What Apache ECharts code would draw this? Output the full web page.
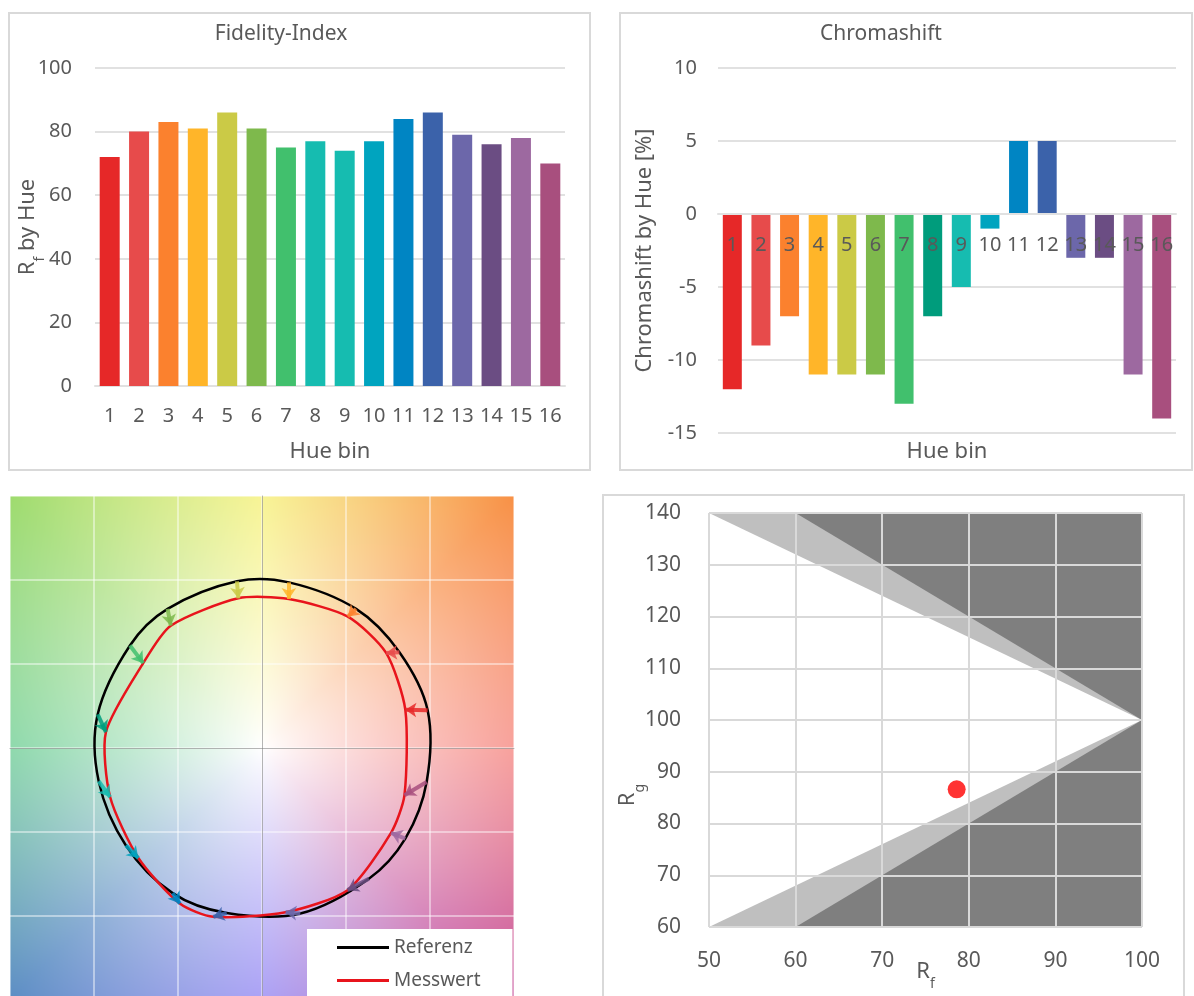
<!DOCTYPE html>
<html>
<head>
<meta charset="utf-8">
<title>TM-30 Auswertung</title>
<script src="https://cdn.jsdelivr.net/npm/echarts@6/dist/echarts.min.js"></script>
<style>
  html, body { margin: 0; padding: 0; background: #fff; }
  #chart { width: 1194px; height: 996px; }
</style>
</head>
<body>
<div id="chart"></div>
<script>
// ---- data ----
const hueBins = ['1', '2', '3', '4', '5', '6', '7', '8', '9', '10', '11', '12', '13', '14', '15', '16'];
const fidelityByHue = [72, 80, 83, 81, 86, 81, 75, 77, 74, 77, 84, 86, 79, 76, 78, 70];
const chromaShiftByHue = [-12, -9, -7, -11, -11, -11, -13, -7, -5, -1, 5, 5, -3, -3, -11, -14];

// colour vector graphic, normalised a'/b' coordinates per hue bin
const referenzPoints = [
  [0.986, 0.224], [0.818, 0.570], [0.560, 0.828], [0.160, 0.986],
  [-0.149, 0.992], [-0.562, 0.828], [-0.786, 0.610], [-0.978, 0.200],
  [-0.972, -0.198], [-0.810, -0.580], [-0.532, -0.864], [-0.210, -0.982],
  [0.228, -0.985], [0.636, -0.778], [0.853, -0.539], [0.980, -0.202]
];
const messwertPoints = [
  [0.853, 0.228], [0.739, 0.566], [0.511, 0.782], [0.160, 0.887],
  [-0.141, 0.891], [-0.543, 0.728], [-0.707, 0.505], [-0.929, 0.095],
  [-0.904, -0.292], [-0.736, -0.655], [-0.489, -0.926], [-0.290, -1.005],
  [0.140, -0.978], [0.509, -0.846], [0.768, -0.505], [0.848, -0.281]
];

// Rf / Rg chart
const rfRgPoint = [[78.6, 86.6]];
const rgUpperOuter = [[50, 140], [100, 100]];
const rgUpperInner = [[60, 140], [100, 100]];
const rgLowerOuter = [[50, 60], [100, 100]];
const rgLowerInner = [[60, 60], [100, 100]];

// ---- styles ----
const FONT = '"Noto Sans", "Open Sans", sans-serif';
const TXT = '#595959';
const GRIDC = '#e1e1e1';
const fidelityColors = ['#e62828', '#e74b4b', '#fb812e', '#ffb529', '#cbca46', '#7eb94c', '#41c06d', '#16bcb0',
  '#16bcb0', '#00a4bf', '#0085c3', '#3b62aa', '#6c67aa', '#6b4d83', '#9d69a0', '#a84f7e'];
const chromaColors = fidelityColors.slice();
chromaColors[7] = '#009c7c';

// background hue field for the colour vector graphic (base colours every 45 deg)
const fieldColors = [
  [245, 127, 120], [248, 145, 70], [245, 240, 110], [158, 219, 110],
  [102, 203, 142], [92, 141, 196], [140, 127, 242], [197, 80, 155]
];
function hueField(size) {
  const cvs = document.createElement('canvas');
  cvs.width = size; cvs.height = size;
  const ctx = cvs.getContext('2d');
  const img = ctx.createImageData(size, size);
  const half = size / 2, sc = 1.5 / half;
  for (let py = 0; py < size; py++) {
    for (let px = 0; px < size; px++) {
      const x = (px + 0.5 - half) * sc, y = (half - py - 0.5) * sc;
      let a = Math.atan2(y, x) * 180 / Math.PI;
      if (a < 0) a += 360;
      const s = Math.floor(a / 45) % 8, f = a / 45 - Math.floor(a / 45);
      const c0 = fieldColors[s], c1 = fieldColors[(s + 1) % 8];
      const t = Math.pow(Math.min(1, Math.hypot(x, y) / 2.12), 0.9);
      const i = (py * size + px) * 4;
      for (let k = 0; k < 3; k++) {
        const c = c0[k] + (c1[k] - c0[k]) * f;
        img.data[i + k] = Math.round(255 + (c - 255) * t);
      }
      img.data[i + 3] = 255;
    }
  }
  ctx.putImageData(img, 0, 0);
  return cvs;
}

// closed smooth outline through the points of one series
function closedCurve(points, color, smooth) {
  return function (params, api) {
    if (params.dataIndex !== 0) return null;
    return {
      type: 'polygon',
      shape: { points: points.map(p => api.coord(p)), smooth: smooth },
      style: { fill: 'none', stroke: color, lineWidth: 2.5 }
    };
  };
}

const subRich = {
  r: { fontSize: 22, color: TXT, fontFamily: FONT, verticalAlign: 'top', lineHeight: 30 },
  s: { fontSize: 14, color: TXT, fontFamily: FONT, verticalAlign: 'bottom', lineHeight: 14 }
};

const chart = echarts.init(document.getElementById('chart'));

const arrowData = referenzPoints.map((p, i) => ({
  coords: [p, messwertPoints[i]],
  lineStyle: { color: chromaColors[i] }
}));

const option = {
  animation: false,
  backgroundColor: '#fff',
  textStyle: { fontFamily: FONT },
  title: [
    { text: 'Fidelity-Index', left: 276, top: 19, textAlign: 'center',
      textStyle: { fontSize: 21, fontWeight: 'normal', color: TXT, fontFamily: FONT } },
    { text: 'Chromashift', left: 876, top: 19, textAlign: 'center',
      textStyle: { fontSize: 21, fontWeight: 'normal', color: TXT, fontFamily: FONT } }
  ],
  legend: {
    data: ['Referenz', 'Messwert'],
    orient: 'vertical',
    left: 307, bottom: 0,
    padding: [9, 32, 6, 30],
    itemGap: 14,
    itemWidth: 52, itemHeight: 3,
    icon: 'rect',
    backgroundColor: '#fff',
    selectedMode: false,
    textStyle: { fontSize: 19, color: TXT, fontFamily: FONT }
  },
  graphic: {
    elements: [
      { type: 'image', left: 10, top: 496, z: -10, style: { image: hueField(504), width: 504, height: 504 } },
      { type: 'rect', shape: { x: 9, y: 13, width: 581, height: 457 }, z: -5,
        style: { fill: null, stroke: '#d9d9d9', lineWidth: 2 } },
      { type: 'rect', shape: { x: 620, y: 13, width: 572, height: 457 }, z: -5,
        style: { fill: null, stroke: '#d9d9d9', lineWidth: 2 } },
      { type: 'rect', shape: { x: 603, y: 495, width: 581, height: 520 }, z: -5,
        style: { fill: null, stroke: '#d9d9d9', lineWidth: 2 } }
    ]
  },
  grid: [
    { left: 95, top: 68, width: 470, height: 318, outerBoundsMode: 'none' },
    { left: 718, top: 68, width: 458, height: 365, outerBoundsMode: 'none' },
    { left: 10, top: 496, width: 504, height: 504, outerBoundsMode: 'none' },
    { left: 709, top: 513, width: 433, height: 414, outerBoundsMode: 'none' }
  ],
  xAxis: [
    { gridIndex: 0, type: 'category', data: hueBins,
      name: 'Hue bin', nameLocation: 'middle', nameGap: 55,
      nameTextStyle: { fontSize: 22, color: TXT, fontFamily: FONT },
      axisLine: { lineStyle: { color: GRIDC, width: 2 } }, axisTick: { show: false },
      axisLabel: { interval: 0, margin: 20, fontSize: 20, color: TXT, fontFamily: FONT } },
    // category axis drawn on the zero line (433 - 219 = 214 px)
    { gridIndex: 1, type: 'category', data: hueBins, z: 3, position: 'bottom', offset: -219,
      name: 'Hue bin', nameLocation: 'middle', nameGap: 227,
      nameTextStyle: { fontSize: 22, color: TXT, fontFamily: FONT },
      axisLine: { onZero: false, lineStyle: { color: GRIDC, width: 2 } }, axisTick: { show: false },
      axisLabel: { interval: 0, margin: 21, fontSize: 20, color: TXT, fontFamily: FONT } },
    { gridIndex: 2, type: 'value', min: -1.5, max: 1.5, interval: 0.5,
      axisLabel: { show: false }, axisTick: { show: false },
      axisLine: { show: true, onZero: true, lineStyle: { color: 'rgba(120,120,120,0.55)', width: 1 } },
      splitLine: { lineStyle: { color: 'rgba(255,255,255,0.6)', width: 1.5 } } },
    { gridIndex: 3, type: 'value', min: 50, max: 100, interval: 10, z: 5,
      name: '{r|R}{s|f}', nameLocation: 'middle', nameGap: 34, nameMoveOverlap: false,
      nameTextStyle: { rich: subRich },
      axisLine: { show: false }, axisTick: { show: false },
      axisLabel: { margin: 24, fontSize: 21, color: TXT, fontFamily: FONT },
      splitLine: { lineStyle: { color: '#d9d9d9', width: 2 } } }
  ],
  yAxis: [
    { gridIndex: 0, type: 'value', min: 0, max: 100, interval: 20,
      name: '{r|R}{s|f}{r| by Hue}', nameLocation: 'middle', nameGap: 48, nameMoveOverlap: false,
      nameTextStyle: { rich: subRich },
      axisLabel: { margin: 23, fontSize: 20, color: TXT, fontFamily: FONT },
      splitLine: { lineStyle: { color: GRIDC, width: 2 } } },
    { gridIndex: 1, type: 'value', min: -15, max: 10, interval: 5,
      name: 'Chromashift by Hue [%]', nameLocation: 'middle', nameGap: 62, nameMoveOverlap: false,
      nameTextStyle: { fontSize: 22, color: TXT, fontFamily: FONT },
      axisLabel: { margin: 21, fontSize: 20, color: TXT, fontFamily: FONT },
      splitLine: { lineStyle: { color: GRIDC, width: 2 } } },
    { gridIndex: 2, type: 'value', min: -1.5, max: 1.5, interval: 0.5,
      axisLabel: { show: false }, axisTick: { show: false },
      axisLine: { show: true, onZero: true, lineStyle: { color: 'rgba(120,120,120,0.55)', width: 1 } },
      splitLine: { lineStyle: { color: 'rgba(255,255,255,0.6)', width: 1.5 } } },
    { gridIndex: 3, type: 'value', min: 60, max: 140, interval: 10, z: 5,
      name: '{r|R}{s|g}', nameLocation: 'middle', nameGap: 62, nameMoveOverlap: false,
      nameTextStyle: { rich: subRich, padding: [0, 150, 0, 0] },
      axisLine: { show: false }, axisTick: { show: false },
      axisLabel: { margin: 28, fontSize: 21, color: TXT, fontFamily: FONT },
      splitLine: { lineStyle: { color: '#d9d9d9', width: 2 } } }
  ],
  series: [
    { type: 'bar', xAxisIndex: 0, yAxisIndex: 0, barWidth: 20,
      data: fidelityByHue.map((v, i) => ({ value: v, itemStyle: { color: fidelityColors[i] } })) },
    { type: 'bar', xAxisIndex: 1, yAxisIndex: 1, barWidth: 19,
      data: chromaShiftByHue.map((v, i) => ({ value: v, itemStyle: { color: chromaColors[i] } })) },

    { name: 'Referenz', type: 'custom', coordinateSystem: 'cartesian2d', xAxisIndex: 2, yAxisIndex: 2, z: 3,
      itemStyle: { color: '#000' }, data: referenzPoints,
      renderItem: closedCurve(referenzPoints, '#000', 0.34) },
    { name: 'Messwert', type: 'custom', coordinateSystem: 'cartesian2d', xAxisIndex: 2, yAxisIndex: 2, z: 3,
      itemStyle: { color: '#e8141c' }, data: messwertPoints,
      renderItem: closedCurve(messwertPoints, '#e8141c', 0.24) },
    { type: 'lines', coordinateSystem: 'cartesian2d', xAxisIndex: 2, yAxisIndex: 2, z: 4,
      symbol: ['none', 'arrow'], symbolSize: [0, 11],
      lineStyle: { width: 4, opacity: 0.85 },
      data: arrowData },

    { type: 'line', xAxisIndex: 3, yAxisIndex: 3, data: rgUpperOuter, showSymbol: false,
      lineStyle: { width: 0 }, areaStyle: { origin: 'end', color: '#bfbfbf', opacity: 1 } },
    { type: 'line', xAxisIndex: 3, yAxisIndex: 3, data: rgUpperInner, showSymbol: false,
      lineStyle: { width: 0 }, areaStyle: { origin: 'end', color: '#7f7f7f', opacity: 1 } },
    { type: 'line', xAxisIndex: 3, yAxisIndex: 3, data: rgLowerOuter, showSymbol: false,
      lineStyle: { width: 0 }, areaStyle: { origin: 'start', color: '#bfbfbf', opacity: 1 } },
    { type: 'line', xAxisIndex: 3, yAxisIndex: 3, data: rgLowerInner, showSymbol: false,
      lineStyle: { width: 0 }, areaStyle: { origin: 'start', color: '#7f7f7f', opacity: 1 } },
    { type: 'scatter', xAxisIndex: 3, yAxisIndex: 3, z: 10, symbolSize: 18,
      itemStyle: { color: '#ff0000' }, data: rfRgPoint }
  ]
};

chart.setOption(option);
</script>
</body>
</html>
